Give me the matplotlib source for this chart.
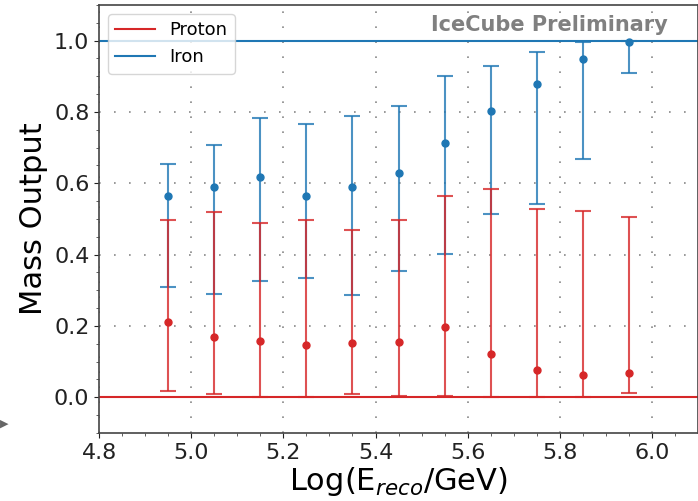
import numpy as np
import matplotlib
matplotlib.use("Agg")
import matplotlib.pyplot as plt

# bin centres in log10(E_reco/GeV)
logE = [4.95, 5.05, 5.15, 5.25, 5.35, 5.45, 5.55, 5.65, 5.75, 5.85, 5.95]

# proton: mean, lower edge, upper edge
p_mean = [0.210, 0.168, 0.159, 0.147, 0.152, 0.156, 0.196, 0.121, 0.075, 0.063, 0.067]
p_low = [0.018, 0.008, 0.001, 0.001, 0.008, 0.004, 0.002, 0.0, 0.0, 0.0, 0.011]
p_high = [0.497, 0.520, 0.490, 0.496, 0.470, 0.498, 0.565, 0.584, 0.529, 0.522, 0.506]

# iron: mean, lower edge, upper edge
fe_mean = [0.565, 0.590, 0.617, 0.565, 0.589, 0.628, 0.713, 0.804, 0.879, 0.949, 0.997]
fe_low = [0.310, 0.290, 0.327, 0.333, 0.286, 0.355, 0.402, 0.515, 0.542, 0.668, 0.909]
fe_high = [0.655, 0.707, 0.783, 0.765, 0.788, 0.816, 0.900, 0.928, 0.968, 0.997, 0.999]

red = "#d62728"
blue = "#1f77b4"

fig = plt.figure(figsize=(6.98, 5.01), dpi=100)
ax = fig.add_axes([0.142, 0.136, 0.858, 0.854])

x = np.array(logE)
pm = np.array(p_mean)
fm = np.array(fe_mean)
p_err = [pm - np.array(p_low), np.array(p_high) - pm]
f_err = [fm - np.array(fe_low), np.array(fe_high) - fm]

ax.axhline(0.0, color=red, lw=1.5, label="Proton")
ax.axhline(1.0, color=blue, lw=1.5, label="Iron")

eb = ax.errorbar(x, fm, yerr=f_err, fmt="o", color=blue, ms=5, elinewidth=1.5,
                 capsize=6, capthick=1.5)
for part in eb[1] + eb[2]:
    part.set_alpha(0.8)
eb = ax.errorbar(x, pm, yerr=p_err, fmt="o", color=red, ms=5, elinewidth=1.5,
                 capsize=6, capthick=1.5)
for part in eb[1] + eb[2]:
    part.set_alpha(0.8)

ax.set_xlim(4.8, 6.1)
ax.set_ylim(-0.1, 1.1)
ax.set_xticks(np.arange(4.8, 6.01, 0.2))
ax.set_yticks(np.arange(0.0, 1.01, 0.2))
ax.set_xticks(np.arange(4.8, 6.1, 0.05), minor=True)
ax.set_yticks(np.arange(-0.1, 1.1, 0.05), minor=True)
ax.tick_params(labelsize=16, colors="#222222")
ax.tick_params(which="minor", length=2.5, color="#444444")
for s in ax.spines.values():
    s.set_color("#444444")
    s.set_linewidth(1.2)

ax.grid(True, which="major", color="#888888", linestyle=(0, (1, 8)), lw=1.2)

ax.set_xlabel(r"Log(E$_{reco}$/GeV)", fontsize=22, labelpad=2)
ax.set_ylabel("Mass Output", fontsize=22)

ax.legend(loc="upper left", fontsize=13, handlelength=2.2)
ax.text(0.95, 0.953, "IceCube Preliminary", transform=ax.transAxes, ha="right",
        va="center", fontsize=15, fontweight="bold", color="#808080")

fig.text(0.0, 0.155, "\u25B6", color="#666666", fontsize=8, ha="left", va="center")

fig.savefig("out.png", dpi=100)
